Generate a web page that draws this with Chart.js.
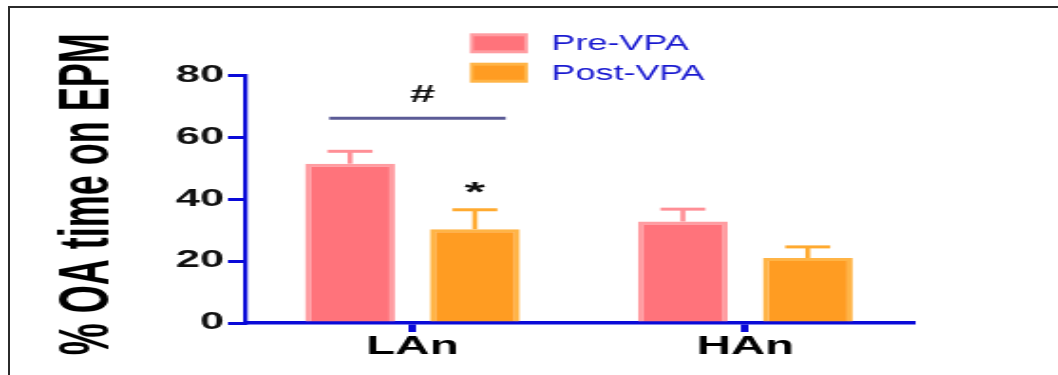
<!DOCTYPE html>
<html>
<head>
<meta charset="utf-8">
<script src="https://cdn.jsdelivr.net/npm/chart.js@4/dist/chart.umd.min.js"></script>
<style>
  html, body { margin: 0; padding: 0; background: #fff; overflow: hidden; }
  #page { position: relative; width: 1058px; height: 375px; overflow: hidden; background: #fff; }
  /* the plot is laid out narrow and widened horizontally */
  #wrap { position: absolute; left: 0; top: 0; width: 557px; height: 375px;
          transform: scaleX(1.8995); transform-origin: 0 0; }
  #frame { position: absolute; left: 8px; top: 6px; right: -20px; bottom: -20px;
           border-top: 2px solid #2b2b2b; border-left: 2px solid #2b2b2b; }
</style>
</head>
<body>
<div id="page">
  <div id="wrap"><canvas id="chart"></canvas></div>
  <div id="frame"></div>
</div>
<script>
// Groups and series
const categories = ['LAn', 'HAn'];
const seriesNames = ['Pre-VPA', 'Post-VPA'];
const preValues = [51.5, 32.8];
const postValues = [30.3, 21.0];
const preErrors = [4.0, 4.0];
const postErrors = [6.3, 3.6];
const yTicks = [0, 20, 40, 60, 80];
const yTitle = ' % OA time on EPM';

// Significance marks (x in category units, y in axis units)
const hashMark = { text: '#', x: 0.03, y: 73.5 };
const hashLine = { from: -0.25, to: 0.28, y: 66.2 };
const starMark = { text: '*', category: 0, dataset: 1, y: 44 };

const AXIS_BLUE = '#0a0ad8';
const FONT = "'Liberation Sans', Arial, sans-serif";

const errorBarPlugin = {
  id: 'errorBars',
  afterDatasetsDraw(chart) {
    const ctx = chart.ctx;
    const y = chart.scales.y;
    chart.data.datasets.forEach((ds, di) => {
      const meta = chart.getDatasetMeta(di);
      meta.data.forEach((bar, i) => {
        const top = y.getPixelForValue(ds.data[i] + ds.errors[i]);
        const half = bar.width / 4;
        ctx.save();
        ctx.strokeStyle = ds.errorColor;
        ctx.lineWidth = 2.6;
        ctx.beginPath();
        ctx.moveTo(bar.x, bar.y);
        ctx.lineTo(bar.x, top);
        ctx.stroke();
        ctx.lineWidth = 3;
        ctx.beginPath();
        ctx.moveTo(bar.x - half, top);
        ctx.lineTo(bar.x + half, top);
        ctx.stroke();
        ctx.restore();
      });
    });
  }
};

const marksPlugin = {
  id: 'sigMarks',
  afterDatasetsDraw(chart) {
    const ctx = chart.ctx;
    const xs = chart.scales.x, ys = chart.scales.y;
    const step = xs.width / categories.length;
    const cx = xs.getPixelForValue(0);
    ctx.save();
    ctx.strokeStyle = '#5b5b96';
    ctx.lineWidth = 3;
    ctx.beginPath();
    ctx.moveTo(cx + hashLine.from * step, ys.getPixelForValue(hashLine.y));
    ctx.lineTo(cx + hashLine.to * step, ys.getPixelForValue(hashLine.y));
    ctx.stroke();
    ctx.fillStyle = '#111';
    ctx.textAlign = 'center';
    ctx.textBaseline = 'middle';
    ctx.font = "bold 24px " + FONT;
    ctx.fillText(hashMark.text, cx + hashMark.x * step, ys.getPixelForValue(hashMark.y));
    const bar = chart.getDatasetMeta(starMark.dataset).data[starMark.category];
    ctx.font = "bold 28px " + FONT;
    ctx.fillText(starMark.text, bar.x, ys.getPixelForValue(starMark.y) + 6);
    ctx.restore();
  }
};

const legendPlugin = {
  id: 'boxLegend',
  afterDraw(chart, args, o) {
    const ctx = chart.ctx;
    ctx.save();
    chart.data.datasets.forEach((ds, i) => {
      const top = o.y + i * o.rowStep;
      ctx.fillStyle = ds.borderColor;
      ctx.fillRect(o.x, top, o.boxW, o.boxH);
      ctx.fillStyle = ds.backgroundColor;
      ctx.fillRect(o.x + 2, top + 3, o.boxW - 4, o.boxH - 6);
      ctx.save();
      ctx.translate(o.x + o.boxW + o.gap, top + o.boxH / 2 + 1);
      ctx.scale(o.textScaleX, 1);
      ctx.fillStyle = o.color;
      ctx.font = o.font;
      ctx.textAlign = 'left';
      ctx.textBaseline = 'middle';
      ctx.fillText(ds.label, 0, 0);
      ctx.restore();
    });
    ctx.restore();
  }
};

new Chart(document.getElementById('chart'), {
  type: 'bar',
  data: {
    labels: categories,
    datasets: [
      { label: seriesNames[0], data: preValues, errors: preErrors,
        backgroundColor: '#ff737b', borderColor: '#ff9ca1', errorColor: '#ff8f96',
        borderWidth: 3, borderSkipped: 'bottom',
        barPercentage: 0.72, categoryPercentage: 0.75 },
      { label: seriesNames[1], data: postValues, errors: postErrors,
        backgroundColor: '#ff9c22', borderColor: '#ffb446', errorColor: '#ffaa30',
        borderWidth: 3, borderSkipped: 'bottom',
        barPercentage: 0.72, categoryPercentage: 0.75 }
    ]
  },
  options: {
    responsive: true,
    maintainAspectRatio: false,
    animation: false,
    events: [],
    layout: { padding: { top: 75.5, right: 77, bottom: 0, left: 0 } },
    plugins: {
      legend: { display: false },
      tooltip: { enabled: false },
      boxLegend: { x: 247.4, y: 33.3, boxW: 30.5, boxH: 20, rowStep: 29.4, gap: 12.4,
                   textScaleX: 0.86, color: '#1818d0', font: "22px " + FONT }
    },
    scales: {
      x: {
        offset: true,
        grid: { display: true, offset: false, drawOnChartArea: false, tickLength: 9,
                lineWidth: 4, color: AXIS_BLUE },
        border: { display: true, color: AXIS_BLUE, width: 3.5 },
        ticks: { color: '#000', font: { family: FONT, size: 25, weight: 'bold' },
                 padding: 0, maxRotation: 0, autoSkip: false },
        afterFit(scale) { scale.height = 52; }
      },
      y: {
        min: 0, max: 80,
        afterBuildTicks(scale) { scale.ticks = yTicks.map(v => ({ value: v })); },
        grid: { display: true, drawOnChartArea: false, tickLength: 9.5, lineWidth: 3,
                color: AXIS_BLUE },
        border: { display: true, color: AXIS_BLUE, width: 2.3 },
        ticks: { color: '#111', font: { family: FONT, size: 23, weight: 'bold' }, padding: 2 },
        title: { display: true, text: yTitle, color: '#000',
                 font: { family: FONT, size: 36, weight: 'bold' },
                 padding: { top: 25, bottom: 0 } },
        afterFit(scale) { scale.width = 129.5; }
      }
    }
  },
  plugins: [errorBarPlugin, marksPlugin, legendPlugin]
});
</script>
</body>
</html>
